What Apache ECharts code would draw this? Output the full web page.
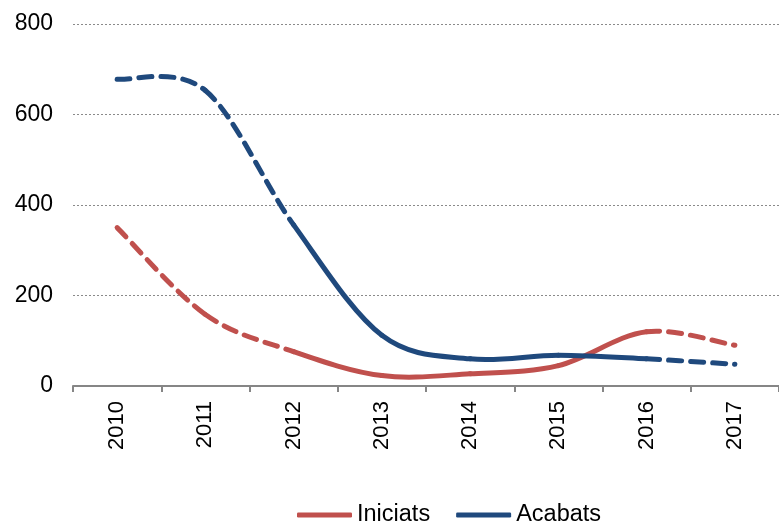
<!DOCTYPE html>
<html>
<head>
<meta charset="utf-8">
<script src="https://cdn.jsdelivr.net/npm/echarts@6/dist/echarts.min.js"></script>
<style>
html,body{margin:0;padding:0;background:#fff;}
#chart{width:779px;height:525px;}
</style>
</head>
<body>
<div id="chart"></div>
<script>
var categories = ['2010','2011','2012','2013','2014','2015','2016','2017'];
var iniciats = [350, 158, 76, 23, 27, 45, 120, 90];
var acabats = [678, 653, 356, 112, 60, 68, 60, 48];
var yTicks = [0, 200, 400, 600, 800];
var seriesNames = ['Iniciats', 'Acabats'];
// segments from index solidFrom to solidTo are solid, the rest dashed
var solidFrom = 2, solidTo = 6;

var RED = '#C0504D', BLUE = '#1F497D';
var FONT = '"Liberation Sans", Arial, sans-serif';

// smooth line (Catmull-Rom style, like spreadsheet smoothing) drawn segment by segment
function smoothSeries(name, values, color) {
  return {
    name: name,
    type: 'custom',
    coordinateSystem: 'cartesian2d',
    data: values.map(function (v, i) { return [i, v]; }),
    encode: {x: 0, y: 1},
    silent: true,
    itemStyle: {color: color},
    renderItem: function (params, api) {
      var i = params.dataIndex;
      var n = values.length;
      if (i >= n - 1) return null;
      var p1 = api.coord([i, values[i]]);
      var p2 = api.coord([i + 1, values[i + 1]]);
      var p0 = i > 0 ? api.coord([i - 1, values[i - 1]]) : p1;
      var p3 = i + 2 < n ? api.coord([i + 2, values[i + 2]]) : p2;
      var k = 1 / 6;
      var dashed = (i < solidFrom || i >= solidTo);
      return {
        type: 'bezierCurve',
        shape: {
          x1: p1[0], y1: p1[1],
          cpx1: p1[0] + (p2[0] - p0[0]) * k, cpy1: p1[1] + (p2[1] - p0[1]) * k,
          cpx2: p2[0] - (p3[0] - p1[0]) * k, cpy2: p2[1] - (p3[1] - p1[1]) * k,
          x2: p2[0], y2: p2[1]
        },
        style: {
          fill: null,
          stroke: color,
          lineWidth: 5,
          lineCap: 'round',
          lineJoin: 'round',
          lineDash: dashed ? [13, 9] : null
        }
      };
    }
  };
}

var chart = echarts.init(document.getElementById('chart'));
chart.setOption({
  animation: false,
  backgroundColor: '#fff',
  grid: {left: 73, right: -10, top: 24, bottom: 139},
  legend: {
    left: 297,
    top: 502,
    padding: 0,
    itemWidth: 55,
    itemHeight: 5,
    itemGap: 26,
    icon: 'roundRect',
    textStyle: {fontFamily: FONT, fontSize: 23.5, color: '#000', lineHeight: 26},
    data: [
      {name: seriesNames[0], itemStyle: {color: RED}},
      {name: seriesNames[1], itemStyle: {color: BLUE}}
    ]
  },
  xAxis: {
    type: 'category',
    data: categories,
    boundaryGap: true,
    axisLine: {show: true, lineStyle: {color: '#868686', width: 2}},
    axisTick: {show: true, length: 6, lineStyle: {color: '#868686', width: 2}},
    axisLabel: {rotate: 90, margin: 15, fontFamily: FONT, fontSize: 22, color: '#000'},
    splitLine: {show: false}
  },
  yAxis: {
    type: 'value',
    min: yTicks[0],
    max: yTicks[yTicks.length - 1],
    interval: yTicks[1] - yTicks[0],
    axisLine: {show: false},
    axisTick: {show: false},
    axisLabel: {margin: 20, fontFamily: FONT, fontSize: 23, color: '#000'},
    splitLine: {show: true, lineStyle: {color: '#8a8a8a', width: 1, type: [2, 2]}}
  },
  series: [
    smoothSeries(seriesNames[0], iniciats, RED),
    smoothSeries(seriesNames[1], acabats, BLUE)
  ]
});
</script>
</body>
</html>
